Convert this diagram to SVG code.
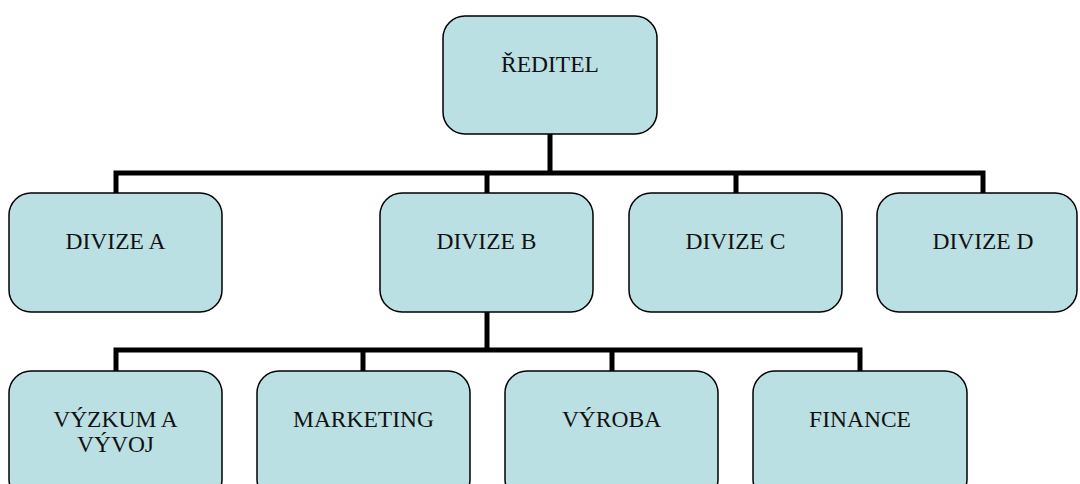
<svg xmlns="http://www.w3.org/2000/svg" width="1080" height="484" viewBox="0 0 1080 484">
<style>
.box{fill:#bbe0e3;stroke:#000;stroke-width:1.5}
.lbl{font-family:"Liberation Serif","Times New Roman",serif;font-size:23.5px;fill:#111;text-anchor:middle}
.con{fill:none;stroke:#000;stroke-width:5;stroke-linejoin:miter;stroke-linecap:butt}
</style>
<rect width="1080" height="484" fill="#fff"/>
<g id="connectors">
<path class="con" d="M550 134V173M116 193V173H983V193M487 173V193M736 173V193"/>
<path class="con" d="M487 312V350M116 371V350H860V371M363 350V371M612 350V371"/>
</g>
<g id="reditel"><rect class="box" x="443" y="16" width="214" height="118" rx="22"/><text class="lbl" x="550" y="72">ŘEDITEL</text></g>
<g id="divize-a"><rect class="box" x="9" y="193" width="213" height="119" rx="22"/><text class="lbl" x="115.5" y="249">DIVIZE A</text></g>
<g id="divize-b"><rect class="box" x="380" y="193" width="213" height="119" rx="22"/><text class="lbl" x="486.5" y="249">DIVIZE B</text></g>
<g id="divize-c"><rect class="box" x="629" y="193" width="213" height="119" rx="22"/><text class="lbl" x="735.5" y="249">DIVIZE C</text></g>
<g id="divize-d"><rect class="box" x="877" y="193" width="200" height="119" rx="22"/><text class="lbl" x="983" y="249">DIVIZE D</text></g>
<g id="vyzkum"><rect class="box" x="9" y="371" width="213" height="130" rx="22"/><text class="lbl" x="115.5" y="427">VÝZKUM A</text><text class="lbl" x="115.5" y="452">VÝVOJ</text></g>
<g id="marketing"><rect class="box" x="257" y="371" width="213" height="130" rx="22"/><text class="lbl" x="363.5" y="427">MARKETING</text></g>
<g id="vyroba"><rect class="box" x="505" y="371" width="213" height="130" rx="22"/><text class="lbl" x="611.5" y="427">VÝROBA</text></g>
<g id="finance"><rect class="box" x="753" y="371" width="214" height="130" rx="22"/><text class="lbl" x="860" y="427">FINANCE</text></g>
</svg>
